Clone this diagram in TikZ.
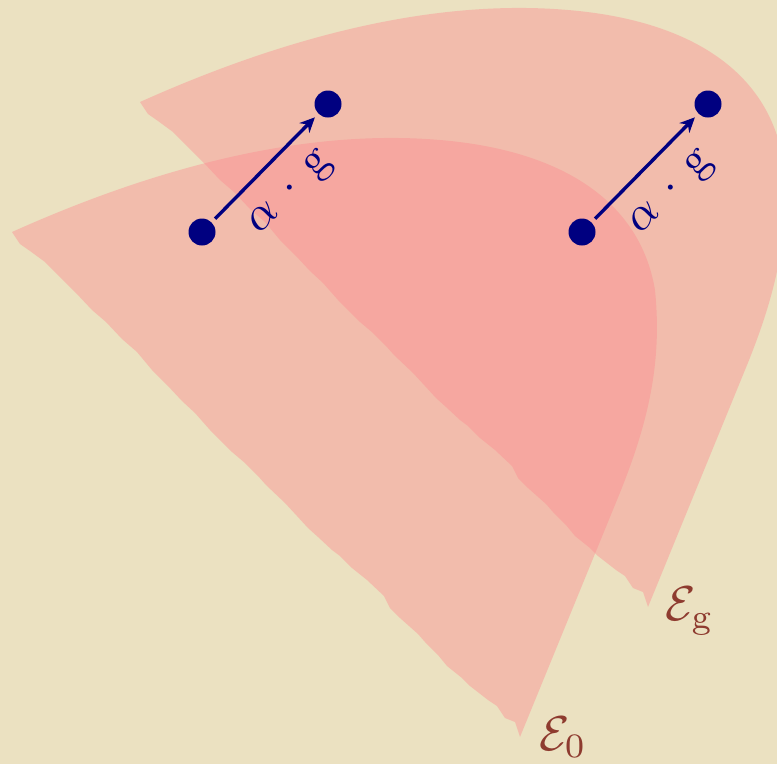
\documentclass[tikz,border=0pt]{standalone}
\usetikzlibrary{arrows.meta}
\definecolor{bg}{RGB}{235,225,193}
\definecolor{petal}{RGB}{252,139,144}
\definecolor{navyc}{RGB}{0,0,128}
\definecolor{brownlab}{RGB}{142,59,47}
\tikzset{
  region/.style={fill=petal, fill opacity=0.42},
  dotnode/.style={circle, fill=navyc, minimum size=27pt, inner sep=0pt},
  actarrow/.style={draw=navyc, line width=3.4pt, -{Stealth[length=15pt,width=14pt,inset=5pt]}, shorten >=5pt, shorten <=5pt},
  actlabel/.style={text=navyc, scale=4.7, rotate=45, inner sep=0pt},
  setlabel/.style={text=brownlab, scale=4.9, inner sep=0pt}
}
\begin{document}
\begin{tikzpicture}[x=1pt, y=-1pt]
\useasboundingbox (0,0) rectangle (777,764);
\clip (0,0) rectangle (777,764);
\fill[bg] (0,0) rectangle (777,764);
% the two regions E_0 and E_g (E_g is E_0 shifted)
\foreach \dx/\dy in {0/0, 128/-130} {
  \fill[region, shift={(\dx,\dy)}]
    (12,232) .. controls (150,170) and (300,128) .. (440,140)
    .. controls (560,150) and (640,200) .. (655,290)
    .. controls (662,360) and (650,420) .. (617,500)
    -- (520,737) -- (515,722) -- (505,718) -- (497,706) -- (488,700)
    -- (470,686) -- (462,678) -- (447,666) -- (438,655) -- (425,642)
    -- (418,634) -- (400,618) -- (390,608) -- (384,596) -- (367,580)
    -- (352,568) -- (340,556) -- (332,550) -- (318,537) -- (308,528)
    -- (297,516) -- (285,503) -- (266,485) -- (258,476) -- (245,463)
    -- (232,452) -- (224,444) -- (210,430) -- (195,413) -- (182,401)
    -- (168,386) -- (152,370) -- (137,352) -- (122,339) -- (106,322)
    -- (92,310) -- (76,293) -- (62,279) -- (45,262) -- (30,251)
    -- (20,244) -- cycle;
}
% points and arrows
\node[dotnode] (a1) at (202,232) {};
\node[dotnode] (a2) at (328,104) {};
\node[dotnode] (b1) at (582,232) {};
\node[dotnode] (b2) at (708,104) {};
\draw[actarrow] (a1) -- (a2);
\draw[actarrow] (b1) -- (b2);
\node[actlabel] (la) at (292,194) {$\alpha\,\cdot\,\mathrm{g}$};
\node[actlabel] (lb) at (673,194) {$\alpha\,\cdot\,\mathrm{g}$};
% set labels
\node[setlabel] (eg) at (690,611) {$\mathcal{E}_{\mathrm{g}}$};
\node[setlabel] (e0) at (563,737) {$\mathcal{E}_0$};
\end{tikzpicture}
\end{document}
